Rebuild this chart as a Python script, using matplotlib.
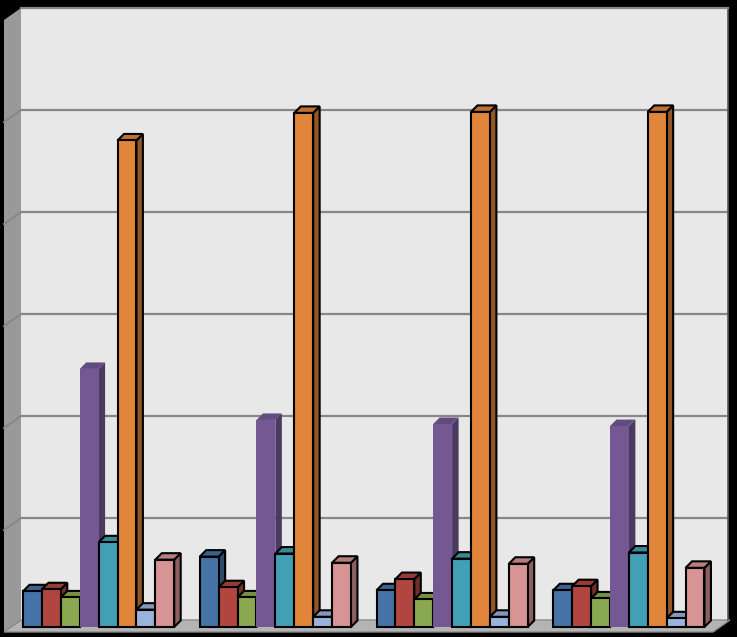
import matplotlib
matplotlib.use("Agg")
import matplotlib.pyplot as plt
from matplotlib.patches import Polygon
from matplotlib.lines import Line2D
import numpy as np

# ---------------- data ----------------
categories = ["Group 1", "Group 2", "Group 3", "Group 4"]
series_names = ["S1", "S2", "S3", "S4", "S5", "S6", "S7", "S8"]
s1 = [0.35, 0.69, 0.36, 0.36]
s2 = [0.37, 0.39, 0.47, 0.40]
s3 = [0.29, 0.29, 0.27, 0.28]
s4 = [2.53, 2.03, 1.99, 1.97]
s5 = [0.83, 0.72, 0.67, 0.73]
s6 = [4.77, 5.04, 5.05, 5.05]
s7 = [0.17, 0.10, 0.10, 0.085]
s8 = [0.66, 0.63, 0.62, 0.58]
series = [s1, s2, s3, s4, s5, s6, s7, s8]

colors = ["#4572a7", "#b0463f", "#8aa84f", "#735894",
          "#42a0b4", "#e0853a", "#9ab3dc", "#d89494"]
edged = [True, True, True, False, True, True, True, True]

# ---------------- layout ----------------
W, H, DPI = 737, 637, 100
fig = plt.figure(figsize=(W / DPI, H / DPI), dpi=DPI, facecolor="black")

# back wall (pixel coordinates from top-left)
wall_l, wall_r, wall_t, wall_b = 21, 728, 8, 620
ax = fig.add_axes([wall_l / W, (H - wall_b) / H, (wall_r - wall_l) / W, (wall_b - wall_t) / H])
ax.set_xlim(0, len(categories))
ax.set_ylim(0, 6)
ax.set_facecolor("#e8e8e8")
ax.set_yticks(np.arange(1, 6))
ax.set_xticks([])
ax.tick_params(left=False, labelleft=False)
ax.yaxis.grid(True, color="#878787", lw=1.6, zorder=0.6)
ax.set_axisbelow(True)
for sp in ["left", "bottom"]:
    ax.spines[sp].set_visible(False)
ax.spines["top"].set_color("#878787")
ax.spines["top"].set_linewidth(1.6)
ax.spines["right"].set_color("#5a5a5a")
ax.spines["right"].set_linewidth(1.2)

# helpers: pixel -> data sizes
px_x = len(categories) / (wall_r - wall_l)
px_y = 6 / (wall_b - wall_t)

# decorations in figure pixel coordinates (from top)
def fpx(pts):
    return [(x / W, (H - y) / H) for x, y in pts]

wall_dx, wall_dy = 17, 12
side = Polygon(fpx([(wall_l - wall_dx, wall_t + wall_dy), (wall_l, wall_t),
                    (wall_l, wall_b), (wall_l - wall_dx, wall_b + wall_dy)]),
               closed=True, transform=fig.transFigure, facecolor="#999999",
               edgecolor="none", zorder=0.5, clip_on=False)
ax.add_artist(side)
for k in range(1, 6):
    yk = wall_b - k * (wall_b - wall_t) / 6
    ax.add_artist(Line2D([(wall_l - wall_dx) / W, wall_l / W],
                         [(H - yk - wall_dy) / H, (H - yk) / H],
                         transform=fig.transFigure, color="#878787", lw=1.4,
                         zorder=0.7, clip_on=False))
floor = Polygon(fpx([(wall_l - wall_dx, wall_b + wall_dy), (wall_l, wall_b),
                     (wall_r + 2, wall_b), (wall_r + 2 - wall_dx, wall_b + wall_dy)]),
                closed=True, transform=fig.transFigure, facecolor="#b4b4b4",
                edgecolor="#8a8a8a", lw=1.0, zorder=0.8, clip_on=False)
ax.add_artist(floor)

# bars
front_shift = 7 * px_y          # front plane is 7 px below the back floor line
group_off = 2 * px_x            # first bar starts 2 px right of category start
bar_w = 18.9 * px_x
d = 6.5
ddx, ddy = d * px_x, d * px_y

def shade(c, f):
    r, g, b = matplotlib.colors.to_rgb(c)
    return (r * f, g * f, b * f)

for i in range(len(categories)):
    for j, vals in enumerate(series):
        v = vals[i]
        L = i + group_off + j * bar_w
        R = L + bar_w
        y0 = -front_shift
        y1 = v - front_shift
        ec = "black" if edged[j] else "none"
        lw = 1.5 if edged[j] else 0
        c = colors[j]
        front = Polygon([(L, y0), (R, y0), (R, y1), (L, y1)], closed=True,
                        facecolor=c, edgecolor=ec, lw=lw, joinstyle="miter",
                        clip_on=False, zorder=3)
        top = Polygon([(L, y1), (R, y1), (R + ddx, y1 + ddy), (L + ddx, y1 + ddy)],
                      closed=True, facecolor=shade(c, 0.85), edgecolor=ec, lw=lw,
                      joinstyle="miter", clip_on=False, zorder=3)
        sidef = Polygon([(R, y0), (R, y1), (R + ddx, y1 + ddy), (R + ddx, y0 + ddy)],
                        closed=True, facecolor=shade(c, 0.65), edgecolor=ec, lw=lw,
                        joinstyle="miter", clip_on=False, zorder=3)
        ax.add_patch(sidef)
        ax.add_patch(top)
        ax.add_patch(front)

fig.savefig("out.png", dpi=DPI, facecolor="black")
